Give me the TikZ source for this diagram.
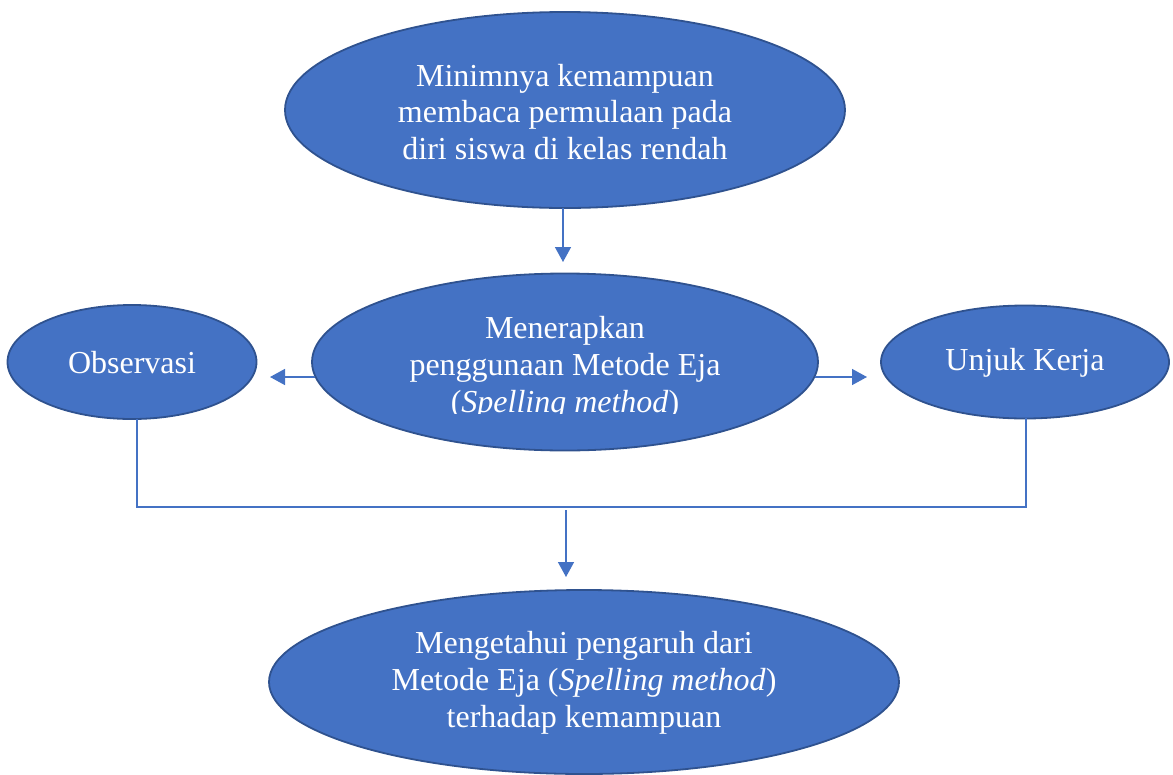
\documentclass[tikz,border=0pt]{standalone}
\usepackage{fontspec}
\setmainfont{Liberation Serif}
\usetikzlibrary{shapes.geometric,arrows.meta}
\definecolor{fillblue}{HTML}{4472C4}
\definecolor{edgeblue}{HTML}{2F528F}
\definecolor{lineblue}{HTML}{4472C4}
\begin{document}
\begin{tikzpicture}[x=1pt,y=-1pt,
  oval/.style={ellipse, draw=edgeblue, line width=1.8pt, fill=fillblue, inner sep=0pt},
  lbl/.style={text=white, align=center, inner sep=0pt, font=\fontsize{32}{36.8}\selectfont},
  conn/.style={draw=lineblue, line width=1.5pt},
  arr/.style={conn, -{Triangle[length=15pt,width=16pt]}}]
\useasboundingbox (0,0) rectangle (1173,774);
\clip (0,0) rectangle (1173,774);
% ellipses
\node[oval, minimum width=560pt, minimum height=196pt] (top) at (565,110) {};
\node[lbl] (toptext) at (565,112) {Minimnya kemampuan\\membaca permulaan pada\\diri siswa di kelas rendah};
\node[oval, minimum width=506pt, minimum height=177pt] (mid) at (565,362) {};
\begin{scope}
\clip (300,270) rectangle (830,413);
\node[lbl] (midtext) at (565,368) {Menerapkan\\penggunaan Metode Eja\\(\textit{Spelling method})};
\end{scope}
\node[oval, minimum width=249pt, minimum height=114pt] (obs) at (132,362) {};
\node[lbl] (obstext) at (132,363) {Observasi};
\node[oval, minimum width=288pt, minimum height=113pt] (unj) at (1025,362) {};
\node[lbl] (unjtext) at (1025,363) {Unjuk Kerja};
\node[oval, minimum width=630pt, minimum height=184pt] (bot) at (584,682) {};
\node[lbl] (bottext) at (584,683) {Mengetahui pengaruh dari\\Metode Eja (\textit{Spelling method})\\terhadap kemampuan};
% connectors
\coordinate (topb) at (563,208);
\coordinate (midt) at (563,262);
\draw[arr] (topb) -- (midt);
\coordinate (midl) at (315,377);
\coordinate (obsr) at (270,377);
\draw[arr] (midl) -- (obsr);
\coordinate (midr) at (815,377);
\coordinate (unjl) at (867,377);
\draw[arr] (midr) -- (unjl);
\coordinate (obsb) at (137,419);
\coordinate (unjb) at (1026,418);
\draw[conn] (obsb) |- (581.5,507) -| (unjb);
\coordinate (joint) at (566,510);
\coordinate (bott) at (566,577);
\draw[arr] (joint) -- (bott);
\end{tikzpicture}
\end{document}
